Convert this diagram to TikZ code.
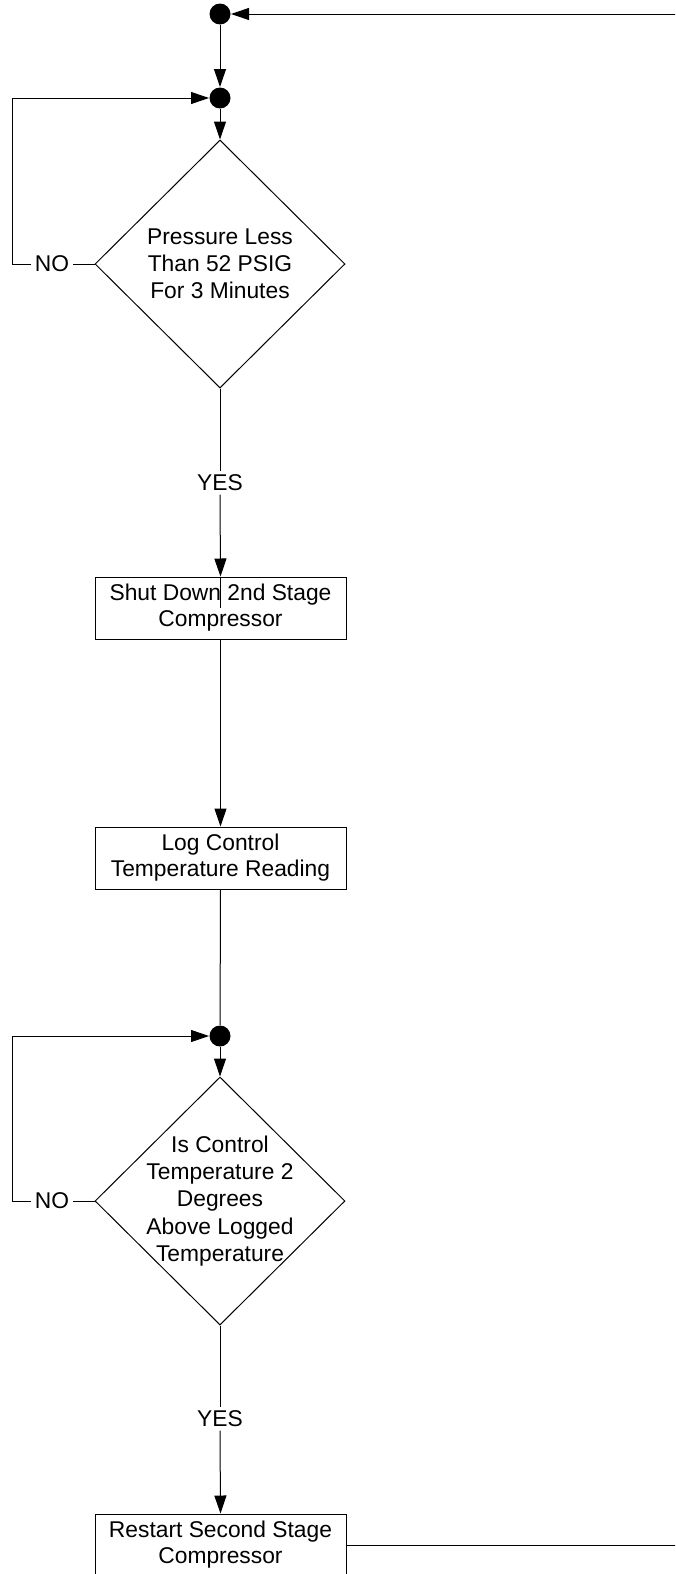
\documentclass[tikz,border=0pt]{standalone}
\usepackage{fontspec}
\setmainfont{Liberation Sans}
\usetikzlibrary{shapes.geometric,arrows.meta}
\begin{document}
\begin{tikzpicture}[x=0.5pt,y=-0.5pt,line width=0.5pt,
  txt/.style={font=\fontsize{11.4}{13.6}\selectfont,align=center},
  decision/.style={draw,diamond,minimum width=125pt,minimum height=124pt,inner sep=0pt},
  stepbox/.style={draw,rectangle,minimum width=125.5pt,minimum height=31pt,inner sep=0pt,txt,font=\fontsize{11.4}{13}\selectfont},
  junction/.style={circle,fill=black,minimum size=10.5pt,inner sep=0pt},
  lbl/.style={txt,fill=white,inner sep=1.5pt},
  arr/.style={-{Triangle[length=9pt,width=6pt]}}]
\useasboundingbox (0,0) rectangle (675,1574);
\clip (0,0) rectangle (675,1574);
% nodes
\node[junction] (dot1) at (220,14) {};
\node[junction] (dot2) at (220,98) {};
\node[decision] (d1) at (220,264) {};
\node[txt] (t1) at (d1.center) {Pressure Less\\Than 52 PSIG\\For 3 Minutes};
\node[stepbox] (b1) at (220.5,608) {Shut Down 2nd Stage\\Compressor};
\node[stepbox] (b2) at (220.5,858) {Log Control\\Temperature Reading};
\node[junction] (dot3) at (220,1036) {};
\node[decision] (d2) at (220,1201) {};
\node[txt] (t2) at (d2.center) {Is Control\\Temperature 2\\Degrees\\Above Logged\\Temperature};
\node[stepbox] (b3) at (220.5,1545) {Restart Second Stage\\Compressor};
% labels
\node[lbl] (no1) at (52,264) {NO};
\node[lbl] (no2) at (52,1201) {NO};
\node[lbl] (yes1) at (220,483) {YES};
\node[lbl] (yes2) at (220,1419) {YES};
% coordinates
\coordinate (c1) at (12,264);
\coordinate (c2) at (12,1201);
\coordinate (r1) at (700,1545);
\coordinate (r2) at (700,14);
% connectors
\draw[arr] (dot1) -- (dot2);
\draw[arr] (dot2) -- (d1.north);
\draw (d1.west) -- (no1.east);
\draw[arr] (no1.west) -- (c1) |- (dot2);
\draw (d1.south) -- (yes1.north);
\draw[arr] (yes1.south) -- (b1.north);
\draw (b1.north) -- ++(0,31);
\draw[arr] (b1.south) -- (b2.north);
\draw (b2.south) -- (dot3);
\draw[arr] (dot3) -- (d2.north);
\draw (d2.west) -- (no2.east);
\draw[arr] (no2.west) -- (c2) |- (dot3);
\draw (d2.south) -- (yes2.north);
\draw[arr] (yes2.south) -- (b3.north);
\draw[arr] (b3.east) -- (r1) -- (r2) -- (dot1);
\end{tikzpicture}
\end{document}
